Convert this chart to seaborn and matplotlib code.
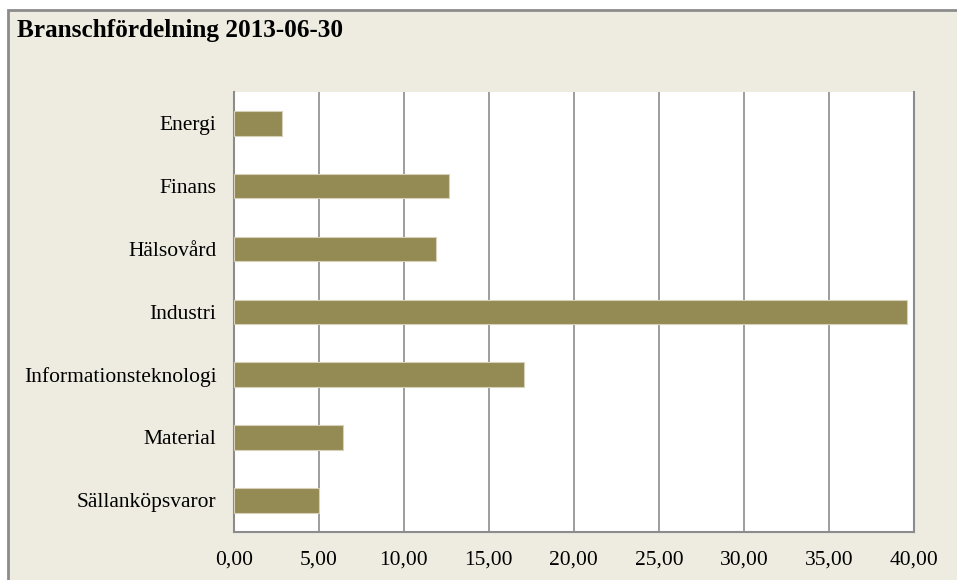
import matplotlib
matplotlib.use("Agg")
import matplotlib.pyplot as plt
import matplotlib.patches as mpatches
import seaborn as sns
import pandas as pd
from matplotlib.ticker import FuncFormatter

categories = ["Energi", "Finans", "Hälsovård", "Industri",
              "Informationsteknologi", "Material", "Sällanköpsvaror"]
values = [2.82, 12.68, 11.91, 39.58, 17.07, 6.41, 5.00]
x_ticks = [0, 5, 10, 15, 20, 25, 30, 35, 40]
title = "Branschfördelning 2013-06-30"

df = pd.DataFrame({"Bransch": categories, "Andel": values})

sns.set_theme(style="white")
plt.rcParams["font.family"] = ["Liberation Serif", "DejaVu Serif"]

W, H = 957, 580
fig = plt.figure(figsize=(W / 100, H / 100), dpi=100)
fig.patch.set_facecolor("white")

bg = mpatches.Rectangle((8 / W, -0.01), 1.02 - 8 / W, 1 - 10 / H + 0.01,
                        transform=fig.transFigure, facecolor="#EEECE1",
                        edgecolor="#8C8C8C", linewidth=2.0, zorder=-10)
fig.patches.append(bg)

ax = fig.add_axes([233.7 / W, 1 - 531.7 / H, (914 - 233.7) / W, (531.7 - 92) / H])
ax.set_facecolor("white")

sns.barplot(data=df, x="Andel", y="Bransch", orient="h", ax=ax,
            color="#948A54", saturation=1, width=0.39,
            edgecolor="#D6D1B8", linewidth=0.8, zorder=3)

ax.set_xlim(0, 40)
ax.set_ylim(6.5, -0.5)
ax.set_xticks(x_ticks)
ax.xaxis.set_major_formatter(FuncFormatter(lambda v, p: f"{v:.2f}".replace(".", ",")))
ax.set_xlabel("")
ax.set_ylabel("")
ax.grid(axis="x", color="#8C8C8C", linewidth=1.2, zorder=0)
ax.set_axisbelow(True)
ax.tick_params(axis="both", length=0, labelsize=15.5, colors="black")
ax.tick_params(axis="y", pad=12.5)
ax.tick_params(axis="x", pad=13.5)
for s in ["left", "bottom", "right"]:
    ax.spines[s].set_visible(True)
    ax.spines[s].set_color("#8C8C8C")
    ax.spines[s].set_linewidth(1.5)
ax.spines["top"].set_visible(False)

fig.text(17 / W, 1 - 30 / H, title, fontsize=18.2, fontweight="bold",
         ha="left", va="center", color="black")

fig.savefig("out.png", dpi=100, facecolor=fig.get_facecolor())
